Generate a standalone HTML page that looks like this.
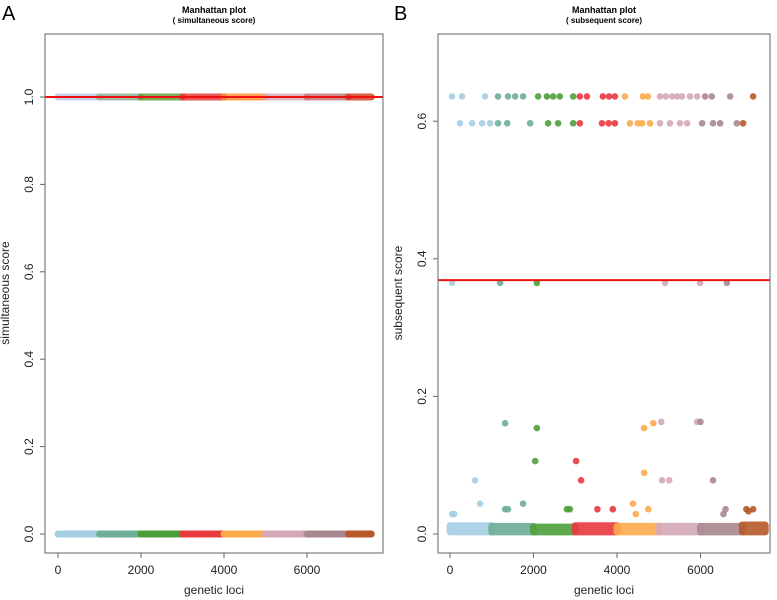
<!DOCTYPE html>
<html><head><meta charset="utf-8"><style>
body{margin:0;background:#fff;}
svg{display:block;font-family:"Liberation Sans",Arial,sans-serif;}
</style></head><body>
<svg id="chart" width="777" height="600" viewBox="0 0 777 600" xmlns="http://www.w3.org/2000/svg"></svg>
<script>
// ---- data ----
const chromStart = [0,1000,2000,3000,4000,5000,6000,7000];
const chromEnd   = [1000,2000,3000,4000,5000,6000,7000,7550];
const chromColors = ['#a6cee3','#6fae96','#4c9f3a','#e8393f','#fdab4c','#d4a8b9','#a9888f','#b65a29'];
const chromColorsTop = ['#b8c8e0','#8aaa90','#5b9a2e','#e83030','#ff8c20','#d8a8b8','#c07070','#cc3a1a'];
// panel A
const aYTicks = [0,0.2,0.4,0.6,0.8,1.0];
const aYTickLabels = ['0.0','0.2','0.4','0.6','0.8','1.0'];
const aThreshold = 1.0;
const aLevels = [0,1];
// panel B
const bYTicks = [0,0.2,0.4,0.6];
const bYTickLabels = ['0.0','0.2','0.4','0.6'];
const bThreshold = 0.369;
const bBandLo = [0.003,0.003,0.003,0.003,0.003,0.003,0.003,0.003];
const bBandHi = [0.012,0.011,0.010,0.012,0.011,0.011,0.011,0.013];
const xTicks = [0,2000,4000,6000];
const xTickLabels = ['0','2000','4000','6000'];
const topLoci = [50,290,840,1150,1390,1560,1750,2110,2320,2470,2630,2950,3110,3280,3660,3810,3950,4190,4620,4740,5030,5170,5320,5440,5560,5750,5920,6110,6270,6710,7260];
const topVal = 0.636;
const secLoci = [240,530,770,960,1150,1370,1920,2350,2590,2950,3110,3640,3800,3950,4310,4500,4600,4790,5030,5270,5510,5680,6040,6300,6470,6870,7020];
const secVal = 0.597;
const midLoci = [50,1200,2080,5150,5990,6630];
const midVal = 0.365;
const outLoci = [1320,2080,2040,3020,3140,600,4650,4870,5060,5920,6000,4650,5080,5250,6300,720,1750,1390,1320,2800,2870,3530,3900,4380,4750,6600,7100,7260,50,100,4450,6550,7150];
const outVals = [0.161,0.154,0.106,0.106,0.078,0.078,0.154,0.161,0.163,0.163,0.163,0.089,0.078,0.078,0.078,0.044,0.044,0.036,0.036,0.036,0.036,0.036,0.036,0.044,0.036,0.036,0.036,0.036,0.029,0.029,0.029,0.029,0.033];

const svg = document.getElementById('chart');
const NS='http://www.w3.org/2000/svg';
function mk(tag, attrs, parent){const e=document.createElementNS(NS,tag);for(const k in attrs)e.setAttribute(k,attrs[k]);(parent||svg).appendChild(e);return e;}
function chromOf(l){for(let i=chromStart.length-1;i>=0;i--)if(l>=chromStart[i])return i;return 0;}

function panel(cfg){
  const g=mk('g',{});
  
  
  const X=v=>cfg.x0+v*cfg.kx, Y=v=>cfg.y0-v*cfg.ky;
  let t=mk('text',{x:cfg.letterX,y:20,'font-size':20,fill:'#000'},g);t.textContent=cfg.letter;
  
  t=mk('text',{x:(cfg.bx0+cfg.bx1)/2,y:13,'font-size':9,'font-weight':'bold','text-anchor':'middle'},g);t.textContent='Manhattan plot';
  
  t=mk('text',{x:(cfg.bx0+cfg.bx1)/2,y:23,'font-size':8,'font-weight':'bold','text-anchor':'middle'},g);t.textContent=cfg.sub;
  
  const marks=mk('g',{},g);
  
  cfg.draw(marks,X,Y);
  const ln=mk('line',{x1:cfg.bx0,x2:cfg.bx1,y1:Y(cfg.thr),y2:Y(cfg.thr),stroke:'#ee1111','stroke-width':2},g);
  
  const b=mk('rect',{x:cfg.bx0,y:34,width:cfg.bx1-cfg.bx0,height:519,fill:'none',stroke:'#666','stroke-width':1},g);
  
  xTicks.forEach((v,i)=>{
    const l=mk('line',{x1:X(v),x2:X(v),y1:553,y2:558,stroke:'#666'},g);
    
    const tx=mk('text',{x:X(v),y:574,'font-size':12,'text-anchor':'middle',fill:'#222'},g);tx.textContent=xTickLabels[i];
    
  });
  cfg.yt.forEach((v,i)=>{
    const l=mk('line',{x1:cfg.bx0-5,x2:cfg.bx0,y1:Y(v),y2:Y(v),stroke:'#666'},g);
    
    const tx=mk('text',{x:cfg.bx0-12,y:Y(v),'font-size':12,'text-anchor':'middle',fill:'#222',transform:`rotate(-90 ${cfg.bx0-12} ${Y(v)})`},g);tx.textContent=cfg.ytl[i];
    
  });
  t=mk('text',{x:(cfg.bx0+cfg.bx1)/2,y:594,'font-size':12,'text-anchor':'middle',fill:'#222'},g);t.textContent='genetic loci';
  
  const yx=cfg.bx0-36,yy=293;
  t=mk('text',{x:yx,y:yy,'font-size':12,'text-anchor':'middle',fill:'#222',transform:`rotate(-90 ${yx} ${yy})`},g);t.textContent=cfg.ylab;
  
}

function band(parent,X,Y,i,lo,hi,col,op){
  const r=3.5;
  const rc=mk('rect',{x:X(chromStart[i])-r,y:Y(hi)-r,width:X(chromEnd[i])-X(chromStart[i])+2*r,height:Y(lo)-Y(hi)+2*r,rx:r,fill:col,opacity:op},parent);
  
}
function dot(parent,x,y,col){
  const c=mk('circle',{cx:x,cy:y,r:3.3,fill:col,opacity:0.9},parent);
  
}

panel({name:'panel-a',letter:'A',letterX:2,sub:'( simultaneous score)',x0:58,kx:83/2000,y0:534,ky:437,bx0:45,bx1:383,
  thr:aThreshold,yt:aYTicks,ytl:aYTickLabels,ylab:'simultaneous score',
  draw:(g,X,Y)=>{
    aLevels.forEach(lv=>chromStart.forEach((s,i)=>band(g,X,Y,i,lv,lv,lv===0?chromColors[i]:chromColorsTop[i],lv===0?1:0.8)));
  }});

panel({name:'panel-b',letter:'B',letterX:394,sub:'( subsequent score)',x0:450,kx:83.5/2000,y0:534,ky:688,bx0:438,bx1:770,
  thr:bThreshold,yt:bYTicks,ytl:bYTickLabels,ylab:'subsequent score',
  draw:(g,X,Y)=>{
    chromStart.forEach((s,i)=>band(g,X,Y,i,bBandLo[i],bBandHi[i],chromColors[i],0.9));
    outLoci.forEach((l,i)=>dot(g,X(l),Y(outVals[i]),chromColors[chromOf(l)]));
    midLoci.forEach(l=>dot(g,X(l),Y(midVal),chromColors[chromOf(l)]));
    secLoci.forEach(l=>dot(g,X(l),Y(secVal),chromColors[chromOf(l)]));
    topLoci.forEach(l=>dot(g,X(l),Y(topVal),chromColors[chromOf(l)]));
  }});
</script>
</body></html>
